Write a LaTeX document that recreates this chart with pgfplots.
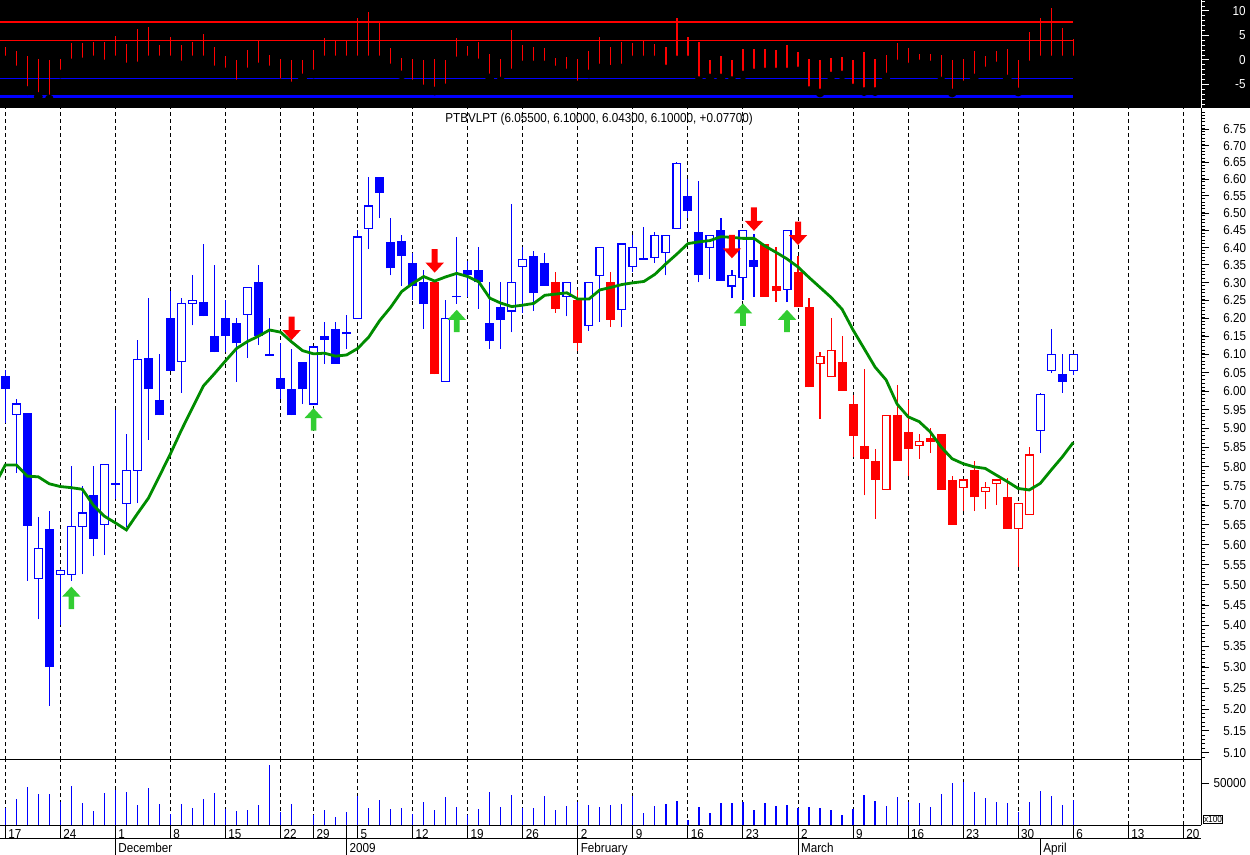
\documentclass[border=0pt]{standalone}
\usepackage{fontspec}
\setmainfont{Liberation Sans}[FakeStretch=0.9]
\usepackage{pgfplots}
\usepackage{pgfplotstable}
\pgfplotsset{compat=1.18}

\definecolor{cblue}{RGB}{0,0,255}
\definecolor{cred}{RGB}{255,0,0}
\definecolor{mavg}{RGB}{0,140,0}
\definecolor{buycol}{RGB}{50,205,50}

\newcommand{\lbl}{\fontsize{6.5pt}{7pt}\selectfont}

% signal arrows, tip on the data point
\pgfdeclareplotmark{sellarrow}{%
  \pgfpathmoveto{\pgfpoint{0pt}{0pt}}%
  \pgfpathlineto{\pgfpoint{-4.6pt}{5pt}}%
  \pgfpathlineto{\pgfpoint{-1.5pt}{5pt}}%
  \pgfpathlineto{\pgfpoint{-1.5pt}{11.7pt}}%
  \pgfpathlineto{\pgfpoint{1.5pt}{11.7pt}}%
  \pgfpathlineto{\pgfpoint{1.5pt}{5pt}}%
  \pgfpathlineto{\pgfpoint{4.6pt}{5pt}}%
  \pgfpathclose\pgfusepathqfill}
\pgfdeclareplotmark{buyarrow}{%
  \pgfpathmoveto{\pgfpoint{0pt}{0pt}}%
  \pgfpathlineto{\pgfpoint{-4.6pt}{-5pt}}%
  \pgfpathlineto{\pgfpoint{-1.4pt}{-5pt}}%
  \pgfpathlineto{\pgfpoint{-1.4pt}{-11.2pt}}%
  \pgfpathlineto{\pgfpoint{1.4pt}{-11.2pt}}%
  \pgfpathlineto{\pgfpoint{1.4pt}{-5pt}}%
  \pgfpathlineto{\pgfpoint{4.6pt}{-5pt}}%
  \pgfpathclose\pgfusepathqfill}

% oscillator bars (top panel)
\pgfplotstableread{
i lo hi
0 0 2.65
1 -2.04 1.84
2 -6.26 0.82
3 -7.48 0.2
4 -7.96 0
5 -2.86 0.2
6 -0.61 3.54
7 -0.41 3.47
8 0 3.67
9 -0.82 3.67
10 0 4.9
11 -1.43 3.33
12 -1.22 6.33
13 0 6.73
14 0 3.06
15 0 4.69
16 -1.02 3.06
17 0 3.67
18 0 5.31
19 -2.04 2.65
20 -2.45 0.82
21 -4.9 0
22 -2.45 2.04
23 -1.43 3.88
24 -2.04 1.02
25 -4.69 0.2
26 -5.31 0
27 -3.67 0
28 -2.86 2.04
29 0 4.49
30 0 3.88
31 0 3.88
32 0 8.57
33 0 9.8
34 0 7.55
35 -1.63 2.45
36 -3.06 0.41
37 -4.9 0.2
38 -5.92 0
39 -6.33 0.2
40 -5.71 0
41 -0.2 4.49
42 0 2.86
43 -0.61 3.67
44 -3.67 1.22
45 -4.29 0.2
46 -2.65 6.12
47 -1.02 3.06
48 -1.02 2.65
49 -1.02 2.45
50 -2.04 0.41
51 -2.65 0.61
52 -5.1 0.2
53 -2.86 1.84
54 -1.63 4.69
55 -1.9 2.65
56 -1.63 3.67
57 0 3.47
58 0 3.88
59 0 3.27
60 -1.84 2.65
61 0 8.57
62 0 4.69
63 -4.22 3.67
64 -3.67 0
65 -3.67 0.82
66 -4.22 0
67 -3.06 2.24
68 -2.65 2.24
69 -2.45 2.24
70 -2.45 2.04
71 -2.45 3.06
72 -2.24 1.63
73 -6.26 0.2
74 -6.73 0
75 -3.27 0.41
76 -3.06 0.61
77 -5.71 0
78 -6.46 1.63
79 -6.46 0.2
80 -3.47 1.02
81 -0.82 3.47
82 -1.43 2.45
83 -0.82 1.22
84 -1.02 1.22
85 -4.29 1.02
86 -6.73 0
87 -5.1 0.2
88 -3.67 1.84
89 -2.24 0.82
90 -1.22 1.84
91 -3.88 2.24
92 -6.53 0
93 -1.02 5.71
94 0 8.57
95 0 10.6
96 0 6.53
97 0 4.29
}\osc

% candles: blue filled
\pgfplotstableread{
i lo hi bot top
0 5.915 6.056 6.005 6.04
2 5.51 5.94 5.648 5.94
4 5.209 5.685 5.30 5.64
8 5.57 5.80 5.615 5.725
10 5.715 5.95 5.753 5.758
13 5.87 6.255 6.005 6.09
14 5.935 6.10 5.935 5.975
15 6.055 6.275 6.055 6.20
18 6.205 6.41 6.205 6.245
19 6.105 6.35 6.105 6.15
20 6.105 6.25 6.15 6.20
21 6.025 6.20 6.13 6.185
23 6.125 6.35 6.15 6.30
24 6.095 6.20 6.095 6.10
25 5.98 6.13 6.005 6.035
26 5.935 6.115 5.935 6.005
27 5.965 6.08 6.005 6.08
29 6.075 6.19 6.14 6.15
30 6.075 6.19 6.075 6.17
31 6.115 6.21 6.155 6.16
34 6.485 6.605 6.56 6.605
35 6.32 6.485 6.34 6.415
36 6.29 6.435 6.375 6.42
37 6.25 6.385 6.29 6.355
38 6.17 6.335 6.24 6.30
41 6.24 6.43 6.258 6.262
42 6.26 6.36 6.32 6.335
43 6.225 6.40 6.30 6.335
44 6.115 6.30 6.135 6.185
45 6.115 6.30 6.195 6.23
48 6.22 6.39 6.27 6.375
49 6.29 6.385 6.29 6.355
58 6.365 6.46 6.365 6.37
62 6.485 6.60 6.505 6.55
63 6.30 6.595 6.32 6.445
65 6.305 6.485 6.305 6.45
68 6.26 6.44 6.345 6.365
96 5.995 6.10 6.025 6.045
}\candBF

% candles: blue hollow
\pgfplotstableread{
i lo hi bot top
1 5.784 5.98 5.937 5.965
3 5.415 5.67 5.515 5.59
5 5.40 5.54 5.525 5.535
6 5.51 5.80 5.525 5.645
7 5.525 5.75 5.645 5.68
9 5.575 5.805 5.65 5.805
11 5.645 5.885 5.705 5.79
12 5.705 6.14 5.79 6.085
16 5.995 6.255 6.08 6.24
17 6.18 6.32 6.24 6.25
22 6.09 6.285 6.21 6.285
28 5.965 6.12 5.965 6.12
32 6.20 6.45 6.20 6.43
33 6.395 6.605 6.455 6.52
40 6.025 6.25 6.025 6.20
46 6.16 6.525 6.22 6.30
47 6.215 6.40 6.345 6.365
51 6.205 6.30 6.26 6.30
53 6.165 6.30 6.18 6.30
54 6.19 6.40 6.32 6.40
56 6.175 6.41 6.225 6.41
57 6.33 6.435 6.345 6.40
59 6.355 6.445 6.37 6.435
60 6.32 6.435 6.385 6.435
61 6.455 6.65 6.455 6.645
64 6.31 6.435 6.40 6.435
66 6.255 6.335 6.29 6.32
67 6.25 6.45 6.315 6.45
71 6.245 6.45 6.28 6.45
94 5.835 5.995 5.895 5.99
95 6.05 6.17 6.055 6.10
97 6.043 6.10 6.055 6.10
}\candBH

% candles: red filled
\pgfplotstableread{
i lo hi bot top
39 6.045 6.30 6.045 6.30
50 6.215 6.33 6.225 6.30
52 6.11 6.28 6.13 6.25
55 6.175 6.33 6.195 6.30
69 6.26 6.41 6.26 6.41
70 6.245 6.40 6.275 6.29
72 6.23 6.375 6.23 6.33
73 6.01 6.255 6.01 6.23
76 6.00 6.15 6.00 6.08
77 5.825 5.99 5.88 5.965
78 5.725 6.06 5.82 5.855
79 5.665 5.845 5.765 5.815
81 5.815 6.015 5.815 5.935
82 5.775 5.975 5.845 5.89
84 5.835 5.90 5.865 5.875
85 5.74 5.885 5.74 5.885
86 5.65 5.775 5.65 5.765
88 5.685 5.815 5.72 5.79
91 5.64 5.77 5.64 5.72
}\candRF

% candles: red hollow
\pgfplotstableread{
i lo hi bot top
74 5.925 6.105 6.075 6.095
75 6.04 6.20 6.04 6.11
80 5.74 5.935 5.74 5.935
83 5.82 5.885 5.855 5.865
87 5.685 5.765 5.745 5.765
89 5.69 5.76 5.735 5.745
90 5.70 5.765 5.755 5.765
92 5.545 5.705 5.64 5.705
93 5.675 5.85 5.675 5.83
}\candRH

% moving average
\pgfplotstableread{
i ma
-1 5.749
0 5.804
1 5.804
2 5.775
3 5.773
4 5.755
5 5.748
6 5.745
7 5.741
8 5.700
9 5.672
10 5.655
11 5.637
12 5.678
13 5.718
14 5.775
15 5.833
16 5.896
17 5.955
18 6.014
19 6.047
20 6.082
21 6.116
22 6.135
23 6.150
24 6.167
25 6.161
26 6.134
27 6.110
28 6.101
29 6.103
30 6.095
31 6.098
32 6.116
33 6.147
34 6.193
35 6.230
36 6.274
37 6.297
38 6.317
39 6.304
40 6.316
41 6.326
42 6.317
43 6.302
44 6.256
45 6.242
46 6.232
47 6.236
48 6.241
49 6.264
50 6.267
51 6.271
52 6.253
53 6.253
54 6.279
55 6.286
56 6.294
57 6.299
58 6.303
59 6.323
60 6.353
61 6.381
62 6.411
63 6.416
64 6.420
65 6.431
66 6.429
67 6.426
68 6.426
69 6.404
70 6.386
71 6.367
72 6.344
73 6.314
74 6.286
75 6.258
76 6.225
77 6.167
78 6.116
79 6.065
80 6.030
81 5.965
82 5.931
83 5.918
84 5.891
85 5.851
86 5.820
87 5.807
88 5.799
89 5.795
90 5.778
91 5.761
92 5.743
93 5.739
94 5.756
95 5.791
96 5.825
97 5.863
}\mavgtab

% volume (x100)
\pgfplotstableread{
i v
0 20000
1 31200
2 45600
3 37200
4 37200
5 27600
6 46800
7 26400
8 16800
9 38400
10 41600
11 39600
12 24000
13 44400
14 25200
15 12800
16 25200
17 20400
18 31200
19 38400
20 19200
21 16800
22 18000
23 24000
24 72000
25 15600
26 25200
28 12000
29 18000
30 9600
31 15600
32 34800
33 20400
34 30000
35 19200
36 20400
37 13200
38 27600
39 18000
40 33600
41 21600
42 12000
43 19200
44 39600
45 21600
46 36000
47 20400
48 20400
49 34800
50 18000
51 22800
52 27600
53 24000
54 21600
55 24000
56 25200
57 34800
58 14400
59 22800
60 25200
61 28800
62 6000
63 21600
64 14400
65 26400
66 26400
67 27600
68 18000
69 26400
70 22800
71 24000
72 20400
73 21600
74 20400
75 18000
76 12000
77 19200
78 36000
79 28800
80 22800
81 33600
82 27600
83 26400
84 21600
85 37200
86 50400
87 51600
88 39600
89 32400
90 27600
91 26400
92 15600
93 27600
94 40800
95 34800
96 24000
97 30000
}\vol

\pgfplotsset{
  panel/.style={scale only axis, width=600.5pt, xmin=-0.48, xmax=108.6,
    anchor=north west, axis line style={-, line width=0.5pt},
    tick label style={font=\lbl}},
  weeks/.style={xtick={0,5,10,15,20,25,28,32,37,42,47,52,57,62,67,72,77,82,87,92,97,102,107}},
  dgrid/.style={xmajorgrids, grid style={black, line width=0.5pt, dash pattern=on 2pt off 1.5pt}},
  rng/.style={only marks, mark=none, forget plot,
    error bars/.cd, y dir=plus, y explicit, error mark=none, error bar style={#1}},
}

% one candle per table row: wick, body, and for hollow ones a white inside
\newcommand{\candles}[3]{%
  \pgfplotstablegetrowsof{#1}%
  \pgfmathtruncatemacro\lastrow{\pgfplotsretval-1}%
  \pgfplotsforeachungrouped \r in {0,...,\lastrow}{%
    \pgfplotstablegetelem{\r}{i}\of#1\let\ci\pgfplotsretval
    \pgfplotstablegetelem{\r}{lo}\of#1\let\clo\pgfplotsretval
    \pgfplotstablegetelem{\r}{hi}\of#1\let\chi\pgfplotsretval
    \pgfplotstablegetelem{\r}{bot}\of#1\let\cbot\pgfplotsretval
    \pgfplotstablegetelem{\r}{top}\of#1\let\ctop\pgfplotsretval
    \edef\temp{%
      \noexpand\addplot[#2, line width=0.55pt, forget plot] coordinates {(\ci,\clo) (\ci,\chi)};
      \noexpand\addplot[#2, line width=4.5pt, forget plot] coordinates {(\ci,\cbot) (\ci,\ctop)};
      \ifnum#3=1
      \noexpand\addplot[white, line width=3.3pt, forget plot] coordinates {(\ci,\cbot) (\ci,\ctop)};
      \noexpand\addplot[only marks, mark=-, mark size=2.25pt, mark options={draw=#2, line width=0.6pt}, forget plot] coordinates {(\ci,\cbot) (\ci,\ctop)};
      \fi}%
    \temp
  }%
}

\begin{document}
\begin{tikzpicture}
\useasboundingbox (0pt,0pt) rectangle (625pt,-427.5pt);
\fill[white] (0pt,0pt) rectangle (625pt,-427.5pt);
\fill[black] (0pt,0pt) rectangle (625pt,-54pt);

% oscillator panel
\begin{axis}[panel, at={(0pt,0pt)}, height=54pt, ymin=-9.796, ymax=12.245,
  axis x line*=bottom, axis y line*=right, axis line style={white}, x axis line style={draw=none},
  weeks, xticklabels={}, x tick style={draw=none},
  ytick={-5,0,5,10}, yticklabels={-5,0,5,10}, minor ytick={-9,-8,...,12},
  y tick style={white, line width=0.5pt}, tick align=outside,
  major tick length=4pt, minor tick length=2pt,
  yticklabel style={white, anchor=east, inner sep=0pt, xshift=18.5pt}]
\addplot[red, line width=1pt] coordinates {(-1,7.76) (97,7.76)};
\addplot[red, line width=0.5pt] coordinates {(-1,4.02) (97,4.02)};
\addplot[cblue, line width=0.5pt] coordinates {(-1,-3.73) (97,-3.73)};
\addplot[cblue, line width=1.35pt] coordinates {(-1,-7.41) (97,-7.41)};
\addplot[rng={draw=red, line width=0.6pt}] table[x=i, y=lo, y error expr=\thisrow{hi}-\thisrow{lo}] {\osc};
\end{axis}

% price panel
\begin{axis}[panel, at={(0pt,-54pt)}, height=326pt, ymode=log, ymin=5.0832, ymax=6.814,
  axis x line*=bottom, axis y line*=right,
  weeks, xticklabels={}, x tick style={draw=none}, dgrid,
  ytick={5.10,5.15,...,6.75}, minor ytick={5.09,5.10,...,6.81},
  y tick style={black, line width=0.5pt}, tick align=outside,
  major tick length=4pt, minor tick length=2pt,
  yticklabel={\pgfmathparse{exp(\tick)}\pgfmathprintnumber[fixed, fixed zerofill, precision=2, assume math mode=true]{\pgfmathresult}},
  yticklabel style={anchor=east, inner sep=0pt, xshift=18.75pt}]
\candles{\candBF}{cblue}{0}
\candles{\candBH}{cblue}{1}
\candles{\candRF}{cred}{0}
\candles{\candRH}{cred}{1}
\addplot[mavg, line width=1.4pt, mark=none] table[x=i, y=ma] {\mavgtab};
\addplot[only marks, mark=sellarrow, color=cred] coordinates {(26,6.139) (39,6.328) (66,6.369) (68,6.448) (72,6.407)};
\addplot[only marks, mark=buyarrow, color=buycol] coordinates {(6,5.495) (28,5.954) (41,6.223) (67,6.241) (71,6.223)};
\node[anchor=north, inner sep=0pt, yshift=-2.2pt, font=\lbl] at (rel axis cs:0.4988,1) {PTBVLPT (6.05500, 6.10000, 6.04300, 6.10000, +0.07700)};
\end{axis}

% volume panel
\begin{axis}[panel, at={(0pt,-380pt)}, height=32.5pt, ymin=0, ymax=77940,
  axis x line*=bottom, axis y line*=right,
  weeks, xticklabels={}, x tick style={draw=none}, dgrid,
  ytick={50000}, yticklabels={50000}, scaled y ticks=false,
  y tick style={black, line width=0.5pt}, tick align=outside, major tick length=4pt,
  yticklabel style={anchor=east, inner sep=0pt, xshift=18.75pt}]
\addplot[ycomb, draw=cblue, line width=0.6pt, mark=none] table[x=i, y=v] {\vol};
\end{axis}
\node[draw=black, line width=0.5pt, inner sep=0.4pt, anchor=north west, font=\fontsize{4.6pt}{5pt}\selectfont] at (601.4pt,-407.5pt) {x100};

% day row (the year break also cuts through it)
\begin{axis}[panel, at={(0pt,-412.5pt)}, height=7pt, ymin=0, ymax=1,
  axis x line*=bottom, axis y line=none,
  xtick={0,5,10,15,20,25,28,31,32,37,42,47,52,57,62,67,72,77,82,87,92,97,102,107},
  xticklabels={17,24,1,8,15,22,29,{},5,12,19,26,2,9,16,23,2,9,16,23,30,6,13,20},
  xmajorgrids, grid style={black, line width=0.5pt}, major tick length=0pt,
  xticklabel style={anchor=base west, inner sep=0pt, xshift=1.3pt, yshift=0.35pt}]
\end{axis}

% month row
\begin{axis}[panel, at={(0pt,-419.5pt)}, height=8pt, ymin=0, ymax=1,
  axis x line*=bottom, x axis line style={draw=none}, axis y line=none,
  xtick={10,31,52,72,94}, xticklabels={December,2009,February,March,April},
  xmajorgrids, grid style={black, line width=0.5pt}, major tick length=0pt,
  xticklabel style={anchor=base west, inner sep=0pt, xshift=1.3pt, yshift=1pt}]
\end{axis}
\end{tikzpicture}
\end{document}
